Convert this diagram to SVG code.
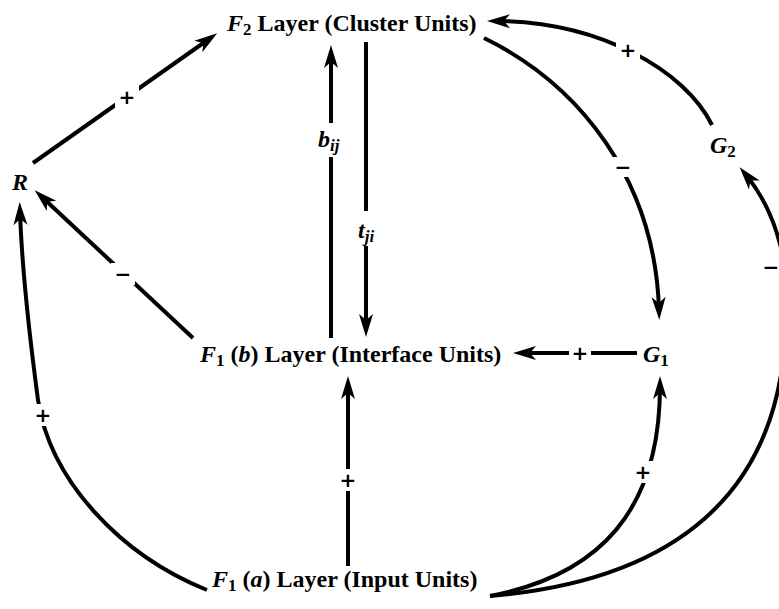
<svg xmlns="http://www.w3.org/2000/svg" width="779" height="609" viewBox="0 0 779 609">
<style>
.t{font-family:"Liberation Serif","Times New Roman",serif;font-weight:bold;font-size:24px;fill:#000}
.i{font-style:italic}
.sub{font-size:17px}
.lab{font-family:"DejaVu Sans","Liberation Sans",sans-serif;font-weight:bold;font-size:20px;fill:#000;text-anchor:middle}
.c{fill:none;stroke:#000;stroke-width:4;marker-end:url(#ah)}
.gap{fill:#fff}
</style>
<defs>
<marker id="ah" markerUnits="userSpaceOnUse" viewBox="-14 -8 26 16" refX="0" refY="0" markerWidth="26" markerHeight="16" orient="auto">
<path d="M10,0 L-13,-7 L-7,0 L-13,7 z" fill="#000"/>
</marker>
</defs>
<rect width="779" height="609" fill="#fff"/>
<g id="connectors">
<path class="c" d="M33,163 L209,39"/>
<path class="c" d="M193,338 L42,197"/>
<path class="c" d="M207,590 C120,555 50,480 38,400 C30,340 22,270 20,212"/>
<path class="c" d="M331,338 L331,55"/>
<path class="c" d="M366,42 L366,327"/>
<path class="c" d="M348,566 L348,386"/>
<path class="c" d="M637,353 L523,353"/>
<path class="c" d="M484,38 C580,85 655,180 659,310"/>
<path class="c" d="M712,125 C685,70 600,22 497,21"/>
<path class="c" d="M490,596 C600,575 660,510 660,386"/>
<path class="c" d="M490,596 C680,580 775,490 785,340 C795,270 775,210 746,175"/>
<rect class="gap" x="115" y="85" width="24" height="24"/>
<rect class="gap" x="111" y="263" width="24" height="22"/>
<rect class="gap" x="31" y="404" width="24" height="22"/>
<rect class="gap" x="336" y="469" width="24" height="22"/>
<rect class="gap" x="569" y="342" width="22" height="22"/>
<rect class="gap" x="611" y="157" width="24" height="20"/>
<rect class="gap" x="616" y="39" width="24" height="22"/>
<rect class="gap" x="631" y="461" width="24" height="22"/>
<rect class="gap" x="763" y="256" width="16" height="22"/>
<rect class="gap" x="318" y="123" width="28" height="34"/>
<rect class="gap" x="352" y="211" width="30" height="35"/>
<text class="lab" x="127" y="104">+</text>
<text class="lab" x="123" y="281">−</text>
<text class="lab" x="43" y="422">+</text>
<text class="lab" x="348" y="487">+</text>
<text class="lab" x="580" y="360">+</text>
<text class="lab" x="623" y="174">−</text>
<text class="lab" x="628" y="57">+</text>
<text class="lab" x="643" y="479">+</text>
<text class="lab" x="771" y="274">−</text>
<text class="t i" x="318" y="147">b<tspan class="sub" dy="4">ij</tspan></text>
<text class="t i" x="358" y="238">t<tspan class="sub" dy="4">ji</tspan></text>
</g>
<g id="F2">
<text class="t" x="227" y="31"><tspan class="i">F</tspan><tspan class="sub" dy="4">2</tspan><tspan dy="-4"> Layer (Cluster Units)</tspan></text>
</g>
<g id="F1b">
<text class="t" x="200" y="362"><tspan class="i">F</tspan><tspan class="sub" dy="4">1</tspan><tspan dy="-4"> (</tspan><tspan class="i">b</tspan>) Layer (Interface Units)</text>
</g>
<g id="F1a">
<text class="t" x="212" y="587"><tspan class="i">F</tspan><tspan class="sub" dy="4">1</tspan><tspan dy="-4"> (</tspan><tspan class="i">a</tspan>) Layer (Input Units)</text>
</g>
<g id="R">
<text class="t i" x="12" y="190">R</text>
</g>
<g id="G1">
<text class="t" x="643" y="362"><tspan class="i">G</tspan><tspan class="sub" dy="4">1</tspan></text>
</g>
<g id="G2">
<text class="t" x="710" y="153"><tspan class="i">G</tspan><tspan class="sub" dy="4">2</tspan></text>
</g>
</svg>
